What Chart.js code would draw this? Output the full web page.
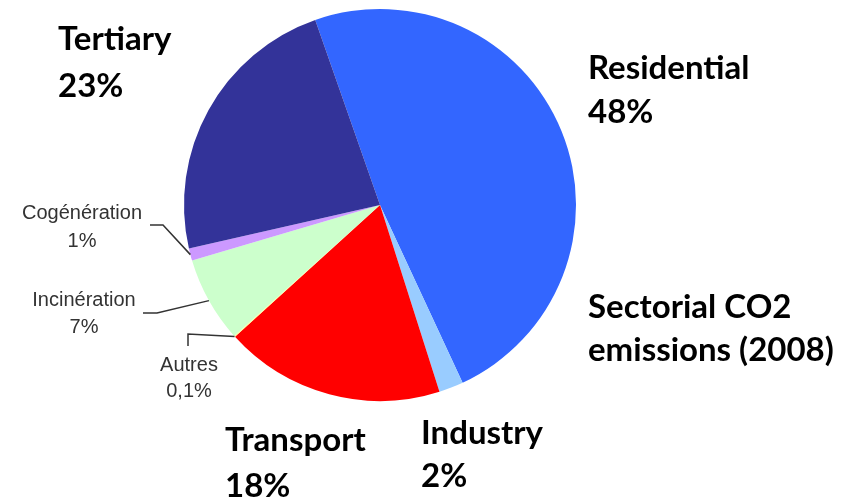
<!DOCTYPE html>
<html>
<head>
<meta charset="utf-8">
<script src="https://cdn.jsdelivr.net/npm/chart.js@4.4.1/dist/chart.umd.min.js"></script>
<style>
  html, body { margin: 0; padding: 0; background: #fff; }
  #wrap { width: 850px; height: 498px; position: relative; }
</style>
</head>
<body>
<div id="wrap"><canvas id="pie"></canvas></div>
<script>
// sectors, clockwise from the Residential slice
const sectors = ['Residential', 'Industry', 'Transport', 'Autres', 'Incinération', 'Cogénération', 'Tertiary'];
const shares = [48, 2, 18, 0.1, 7, 1, 23];
const shareText = ['48%', '2%', '18%', '0,1%', '7%', '1%', '23%'];
const colors = ['#3366ff', '#99ccff', '#ff0000', '#ffff99', '#ccffcc', '#cc99ff', '#333399'];
const title = ['Sectorial CO2', 'emissions (2008)'];

// big bold labels: [index, x, baseline1, baseline2]
const bigLabels = [
    [0, 588, 79, 123],
    [1, 421, 444, 487],
    [2, 225, 451, 497],
    [6, 58, 50, 97]
];
// small labels with leader lines: [index, textCenterX, baseline1, baseline2, elbow points]
const smallLabels = [
    [5, 82, 219, 247, [[150, 225], [163, 225]]],
    [4, 84, 306, 333, [[143, 313], [157, 313]]],
    [3, 189, 371, 397, [[188, 346], [188, 334]]]
];

const labelPlugin = {
    id: 'labels',
    afterDraw(chart) {
        const ctx = chart.ctx;
        const arcs = chart.getDatasetMeta(0).data;
        ctx.save();
        ctx.fillStyle = '#000';
        ctx.textBaseline = 'alphabetic';
        ctx.textAlign = 'left';
        ctx.font = 'bold 33px Lato';
        bigLabels.forEach(([i, x, y1, y2]) => {
            ctx.fillText(sectors[i], x, y1);
            ctx.fillText(shareText[i], x, y2);
        });
        ctx.fillText(title[0], 588, 318);
        ctx.fillText(title[1], 588, 361);

        ctx.font = '20px "Liberation Sans"';
        ctx.textAlign = 'center';
        ctx.fillStyle = '#333';
        smallLabels.forEach(([i, x, y1, y2, pts]) => {
            ctx.fillText(sectors[i], x, y1);
            ctx.fillText(shareText[i], x, y2);
            const a = arcs[i];
            const mid = (a.startAngle + a.endAngle) / 2;
            const ex = a.x + Math.cos(mid) * a.outerRadius;
            const ey = a.y + Math.sin(mid) * a.outerRadius;
            ctx.strokeStyle = '#333';
            ctx.lineWidth = 1.5;
            ctx.beginPath();
            ctx.moveTo(pts[0][0], pts[0][1]);
            ctx.lineTo(pts[1][0], pts[1][1]);
            ctx.lineTo(ex, ey);
            ctx.stroke();
        });
        ctx.restore();
    }
};

const ctx = document.getElementById('pie').getContext('2d');
const myChart = new Chart(ctx, {
    type: 'pie',
    data: {
        labels: sectors,
        datasets: [{
            data: shares,
            backgroundColor: colors,
            borderWidth: 0,
            hoverOffset: 0
        }]
    },
    options: {
        responsive: true,
        maintainAspectRatio: false,
        animation: false,
        rotation: -19.3,
        layout: {
            padding: { left: 184, right: 274, top: 8, bottom: 96 }
        },
        plugins: {
            legend: { display: false },
            tooltip: { enabled: false }
        }
    },
    plugins: [labelPlugin]
});
</script>
</body>
</html>
